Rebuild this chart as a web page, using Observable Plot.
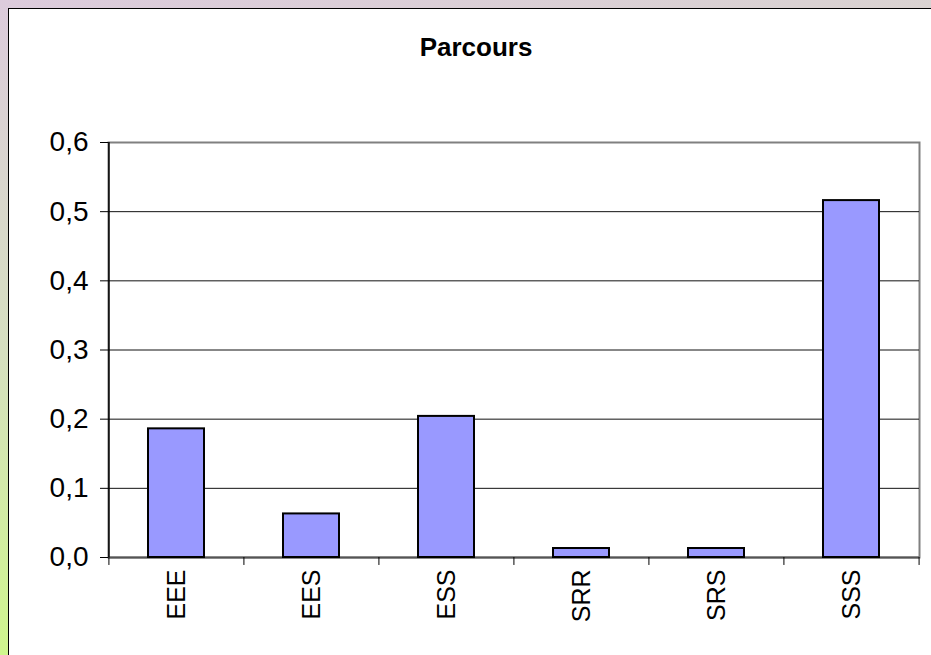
<!DOCTYPE html>
<html>
<head>
<meta charset="utf-8">
<script src="https://cdn.jsdelivr.net/npm/d3@7"></script>
<script src="https://cdn.jsdelivr.net/npm/@observablehq/plot@0.6"></script>
<style>
  html, body { margin: 0; padding: 0; }
  body {
    width: 931px; height: 655px; overflow: hidden; position: relative;
    background: linear-gradient(172deg, #dccbdc 0%, #d6e0c0 45%, #ccff77 100%);
    font-family: "Liberation Sans", Arial, sans-serif;
  }
  #panel {
    position: absolute; left: 8px; top: 8px; width: 960px; height: 700px;
    background: #fff; border: 1px solid #000; box-sizing: border-box;
  }
  #title {
    position: absolute; left: 0; width: 952px; top: 32px; text-align: center;
    font-weight: bold; font-size: 26px; color: #000;
    font-family: "Liberation Sans", Arial, sans-serif;
  }
  #chart { position: absolute; left: 0; top: 0; }
</style>
</head>
<body>
<div id="panel"></div>
<div id="title">Parcours</div>
<div id="chart"></div>
<script>
const categories = ["EEE", "EES", "ESS", "SRR", "SRS", "SSS"];
const values = [0.186, 0.063, 0.204, 0.013, 0.013, 0.516];
const yTicks = [0, 0.1, 0.2, 0.3, 0.4, 0.5, 0.6];

const data = categories.map((c, i) => ({cat: c, val: values[i]}));

const W = 931, H = 655, mL = 108, mR = 12, mT = 142, mB = 98;
const step = (W - mL - mR) / categories.length;
const fmt = d => d.toFixed(1).replace(".", ",");

const chart = Plot.plot({
  width: W, height: H,
  marginLeft: mL, marginRight: mR, marginTop: mT, marginBottom: mB,
  style: {background: "transparent", fontFamily: "'Liberation Sans', Arial, sans-serif", color: "#000", overflow: "visible"},
  x: {domain: categories, paddingInner: 0.586, paddingOuter: 0.293, axis: null, label: null},
  y: {domain: [0, 0.6], axis: null, label: null},
  marks: [
    Plot.frame({stroke: "#808080", strokeWidth: 2}),
    Plot.ruleY(yTicks.slice(1, -1), {stroke: "#111", strokeWidth: 1}),
    Plot.ruleY([0], {stroke: "#555", strokeWidth: 2}),
    Plot.barY(data, {x: "cat", y: "val", fill: "#9999ff", stroke: "#000", strokeWidth: 2}),
    // left axis line
    Plot.ruleX([categories[0]], {x: d => d, y1: 0, y2: 0.6, dx: -step / 2, stroke: "#000", strokeWidth: 1.5}),
    // category boundary ticks
    Plot.ruleX(categories, {x: d => d, y1: 0, y2: -0.0115, dx: -step / 2, stroke: "#000", strokeWidth: 1}),
    Plot.ruleX([categories[categories.length - 1]], {x: d => d, y1: 0, y2: -0.0115, dx: step / 2, stroke: "#000", strokeWidth: 1}),
    Plot.axisY({ticks: yTicks, tickFormat: fmt, tickSize: 8, tickPadding: 12, fontSize: 28, stroke: "#000", label: null}),
    Plot.axisX({tickSize: 0, tickRotate: -90, tickPadding: 12, fontSize: 25, label: null})
  ]
});
document.getElementById("chart").append(chart);
</script>
</body>
</html>
